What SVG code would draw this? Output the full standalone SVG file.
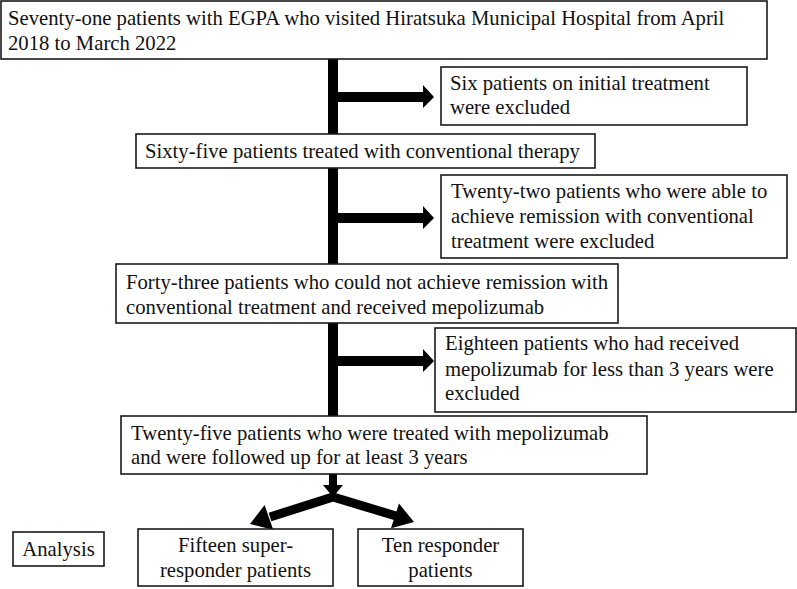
<svg xmlns="http://www.w3.org/2000/svg" width="797" height="589" viewBox="0 0 797 589">
<style>
.box{fill:#fff;stroke:#1a1a1a;stroke-width:1.6}
.c{text-anchor:middle}
.ar{fill:#000}
</style>
<g id="connectors">
<rect class="ar" x="328" y="59" width="10" height="357"/>
<path class="ar" d="M338,92 H423 V85 L434,97 L423,108 V102 H338 Z"/>
<path class="ar" d="M338,213 H423 V206 L434,218 L423,229 V223 H338 Z"/>
<path class="ar" d="M338,356 H423 V349 L434,361 L423,372 V366 H338 Z"/>
<path class="ar" d="M329,474 H337 V485 H343 L333,497 L323,485 H329 Z"/>
<polyline points="270,517 333,497 396,516" fill="none" stroke="#000" stroke-width="9" stroke-linejoin="miter"/>
<path class="ar" d="M250,524 L273.2,529.7 L264.6,505.1 Z"/>
<path class="ar" d="M414,522 L391,528.3 L399,503.5 Z"/>
</g>
<g font-family="Liberation Serif, serif" font-size="20.7" fill="#111">
<g id="n1"><rect class="box" x="1" y="1" width="766" height="58"/>
<text x="8" y="25">Seventy-one patients with EGPA who visited Hiratsuka Municipal Hospital from April</text>
<text x="8" y="50">2018 to March 2022</text></g>
<g id="e1"><rect class="box" x="441" y="67" width="306" height="58"/>
<text x="450" y="90">Six patients on initial treatment</text>
<text x="450" y="114">were excluded</text></g>
<g id="n2"><rect class="box" x="136" y="134" width="459" height="34"/>
<text x="145" y="158">Sixty-five patients treated with conventional therapy</text></g>
<g id="e2"><rect class="box" x="441" y="175" width="346" height="83"/>
<text x="451" y="198">Twenty-two patients who were able to</text>
<text x="451" y="223">achieve remission with conventional</text>
<text x="451" y="248">treatment were excluded</text></g>
<g id="n3"><rect class="box" x="116" y="264" width="502" height="59"/>
<text x="126" y="289">Forty-three patients who could not achieve remission with</text>
<text x="126" y="314">conventional treatment and received mepolizumab</text></g>
<g id="e3"><rect class="box" x="435" y="328" width="361" height="84"/>
<text x="445" y="350">Eighteen patients who had received</text>
<text x="445" y="376">mepolizumab for less than 3 years were</text>
<text x="445" y="400">excluded</text></g>
<g id="n4"><rect class="box" x="121" y="416" width="526" height="58"/>
<text x="131" y="440">Twenty-five patients who were treated with mepolizumab</text>
<text x="131" y="464">and were followed up for at least 3 years</text></g>
<g id="analysis"><rect class="box" x="13" y="532" width="91" height="34"/>
<text class="c" x="58.5" y="556">Analysis</text></g>
<g id="n5"><rect class="box" x="138" y="529" width="195" height="57"/>
<text class="c" x="235.5" y="552">Fifteen super-</text>
<text class="c" x="235.5" y="577">responder patients</text></g>
<g id="n6"><rect class="box" x="358" y="529" width="165" height="57"/>
<text class="c" x="440.5" y="552">Ten responder</text>
<text class="c" x="440.5" y="577">patients</text></g>
</g>
</svg>
